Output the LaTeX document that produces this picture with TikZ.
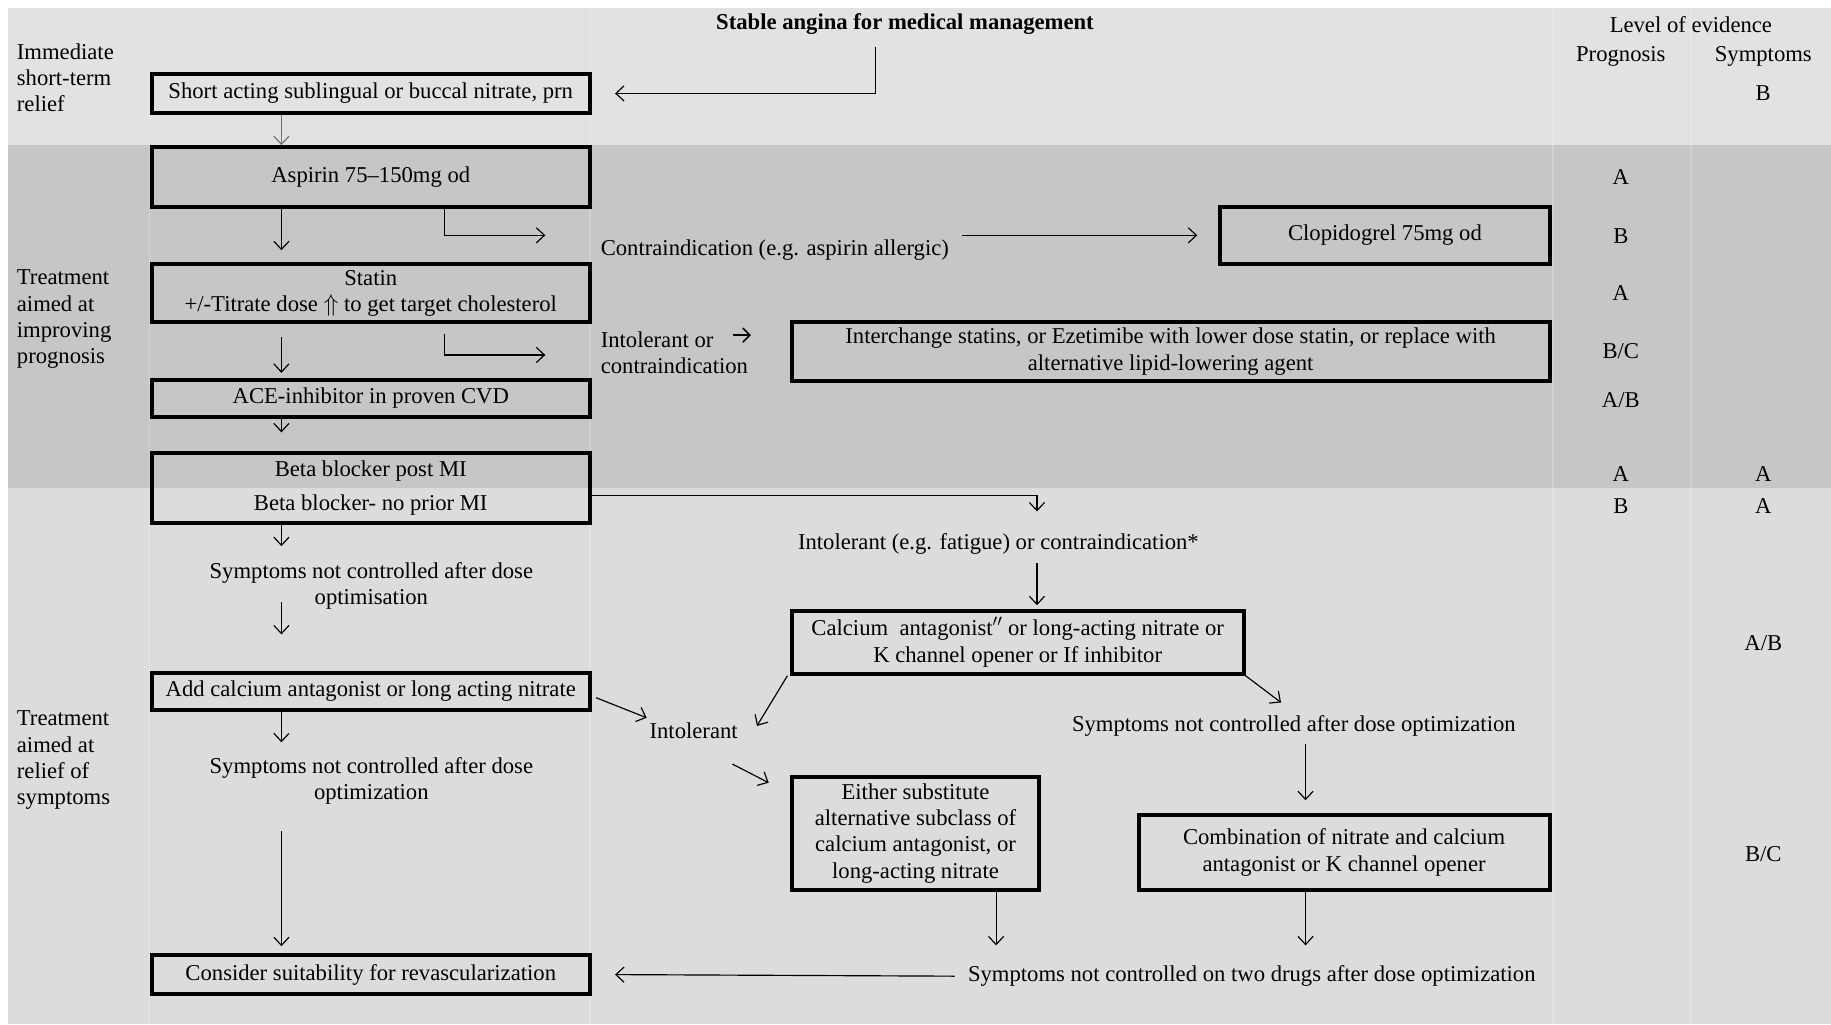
\documentclass[tikz,border=0pt]{standalone}
\usepackage{fontspec}
\setmainfont{Liberation Serif}
\usetikzlibrary{arrows.meta,positioning}

\definecolor{bandtop}{gray}{0.885}
\definecolor{bandmid}{gray}{0.775}
\definecolor{bandlow}{gray}{0.862}

\tikzset{
  box/.style={draw, line width=3.4pt, align=center, inner sep=2pt, minimum width=375pt},
  lbl/.style={align=center, inner sep=1pt},
  side/.style={align=left, inner sep=0pt, anchor=west},
  lev/.style={inner sep=0pt},
}

\begin{document}
\begin{tikzpicture}[x=1pt,y=-1pt,>={Straight Barb[length=7pt,width=13pt]},line width=1pt,font=\fontsize{19.4}{22.5}\selectfont]
	% bands
	\fill[white] (0,0) rectangle (1568,877);
	\fill[bandtop] (7,7) rectangle (1568,124);
	\fill[bandmid] (7,124) rectangle (1568,418);
	\fill[bandlow] (7,418) rectangle (1568,877);
	\foreach \x in {128,505,1330,1448}
		\draw[white,opacity=.2,line width=1.5pt] (\x,7) -- (\x,877);
	\useasboundingbox (0,0) rectangle (1568,877);

	% headings
	\node[font=\bfseries\fontsize{19.4}{22.5}\selectfont] (title) at (775,21) {Stable angina for medical management};
	\node (level) at (1448,21) {Level of evidence};
	\node (prog) at (1388,48) {Prognosis};
	\node (symp) at (1510,48) {Symptoms};
	\node[side] (immed) at (14,66.5) {Immediate\\short-term\\relief};
	\node[side] (treat1) at (14,273.5) {Treatment\\aimed at\\improving\\prognosis};
	\node[side] (treat2) at (14,651) {Treatment\\aimed at\\relief of\\symptoms};

	% left column
	\node[box,minimum height=34pt] (short) at (317.5,80) {Short acting sublingual or buccal nitrate, prn};
	\node[box,minimum height=51pt] (aspirin) at (317.5,151.5) {Aspirin 75--150mg od};
	\node[box,minimum height=50pt] (statin) at (317.5,251) {Statin\\+/-Titrate dose $\Uparrow$ to get target cholesterol};
	\node[box,minimum height=32pt] (ace) at (317.5,341) {ACE-inhibitor in proven CVD};
	\node[box,minimum height=60pt] (beta) at (317.5,418) {Beta blocker post MI\\[6pt]Beta blocker- no prior MI};
	\node[lbl] (sympA) at (318,502) {Symptoms not controlled after dose\\optimisation};
	\node[box,minimum height=32pt] (addca) at (317.5,592) {Add calcium antagonist or long acting nitrate};
	\node[lbl] (sympC) at (318,669) {Symptoms not controlled after dose\\optimization};
	\node[box,minimum height=33pt] (revasc) at (317.5,834.5) {Consider suitability for revascularization};

	% right side
	\node[lbl,anchor=west] (contra) at (513,214) {Contraindication (e.g. aspirin allergic)};
	\node[box,minimum width=282pt,minimum height=49pt] (clopi) at (1186,201.5) {Clopidogrel 75mg od};
	\node[lbl,anchor=west,align=left] (intolA) at (513,302) {Intolerant or\\contraindication};
	\node[box,minimum width=649pt,minimum height=50pt] (inter) at (1002.5,301) {Interchange statins, or Ezetimibe with lower dose statin, or replace with\\alternative lipid-lowering agent};
	\node[lbl] (intolB) at (855,466) {Intolerant (e.g. fatigue) or contraindication*};
	\node[box,minimum width=387pt,minimum height=54pt] (calc) at (871.5,550) {Calcium\ \ antagonist$^{\prime\prime}$ or long-acting nitrate or\\K channel opener or If inhibitor};
	\node[lbl] (intolC) at (594,626) {Intolerant};
	\node[lbl] (sympB) at (1108,622) {Symptoms not controlled after dose optimization};
	\node[box,minimum width=212pt,minimum height=97pt] (either) at (784,713.5) {Either substitute\\alternative subclass of\\calcium antagonist, or\\long-acting nitrate};
	\node[box,minimum width=352pt,minimum height=64pt] (combo) at (1151,730) {Combination of nitrate and calcium\\antagonist or K channel opener};
	\node[lbl] (sympD) at (1072,836) {Symptoms not controlled on two drugs after dose optimization};

	% levels of evidence
	\foreach \y/\t in {152/A,202/B,251/A,301/B\slash C,343/A\slash B,406/A,433/B}
		\node[lev] (p\y) at (1388,\y) {\t};
	\foreach \y/\t in {80/B,406/A,433/A,551/A\slash B,731/B\slash C}
		\node[lev] (s\y) at (1510,\y) {\t};

	% connectors
	\coordinate (tstart) at (750,40);
	\draw[->,shorten >=20pt] (tstart) |- (short.east);
	\draw[->,black!55] ([xshift=-76.5pt]short.south) -- ([xshift=-76.5pt]aspirin.north);
	\draw[->,shorten >=10pt] ([xshift=-76.5pt]aspirin.south) -- ([xshift=-76.5pt]statin.north);
	\draw[->] ([xshift=63.5pt]aspirin.south) |- ([xshift=-46pt]contra.west |- clopi.west);
	\draw[->,shorten <=10pt,shorten >=18pt] (contra.east |- clopi.west) -- (clopi.west);
	\draw[->,shorten <=11pt,shorten >=4pt] ([xshift=-76.5pt]statin.south) -- ([xshift=-76.5pt]ace.north);
	\draw[->,shorten <=8pt] ([xshift=63.5pt]statin.south) |- ([xshift=-46pt,yshift=-2pt]intolA.west);
	\draw[->,line width=1.3pt,>={Straight Barb[length=6pt,width=12pt]}] ([xshift=-14pt,yshift=15pt]intolA.east) -- ([xshift=1pt,yshift=15pt]intolA.east);
	\draw[->,shorten >=16pt] ([xshift=-76.5pt]ace.south) -- ([xshift=-76.5pt]beta.north);
	\draw[->] ([xshift=-76.5pt]beta.south) -- ++(0,18);
	\draw[->,shorten >=31pt] ([xshift=-77pt,yshift=8pt]sympA.south) -- ([xshift=-76.5pt]addca.north);
	\draw[->] ([xshift=-76.5pt]addca.south) -- ++(0,26);
	\draw[->,shorten <=21pt,shorten >=6pt] ([xshift=-77pt]sympC.south) -- ([xshift=-76.5pt]revasc.north);
	\coordinate (bdown) at (888,438);
	\draw[->] ([yshift=-6pt]beta.east) -| (bdown);
	\draw[->,shorten <=6pt,shorten >=3pt] ([xshift=16.5pt]calc.north |- intolB.south) -- ([xshift=16.5pt]calc.north);
	\draw[->] ([xshift=-2pt]calc.south west) -- ([xshift=15pt,yshift=-4pt]intolC.north east);
	\draw[->] (calc.south east) -- ([xshift=-11pt,yshift=10pt]sympB.north);
	\draw[->,shorten <=4pt] ([yshift=-4pt]addca.east) -- ([xshift=-1pt,yshift=3pt]intolC.north west);
	\draw[->] ([xshift=-6pt,yshift=-20pt]intolC.south east) -- ([xshift=-18pt,yshift=-7pt]either.north west);
	\draw[->,shorten <=5pt,shorten >=11pt] ([xshift=10pt]sympB.south) -- ([xshift=-33pt]combo.north);
	\draw[->,shorten >=16pt] ([xshift=69pt]either.south) -- ([xshift=69pt]either.south |- sympD.north);
	\draw[->,shorten >=16pt] ([xshift=-33pt]combo.south) -- ([xshift=-33pt]combo.south |- sympD.north);
	\draw[->,shorten <=10pt,shorten >=20pt] (sympD.west) -- (revasc.east);
\end{tikzpicture}
\end{document}
